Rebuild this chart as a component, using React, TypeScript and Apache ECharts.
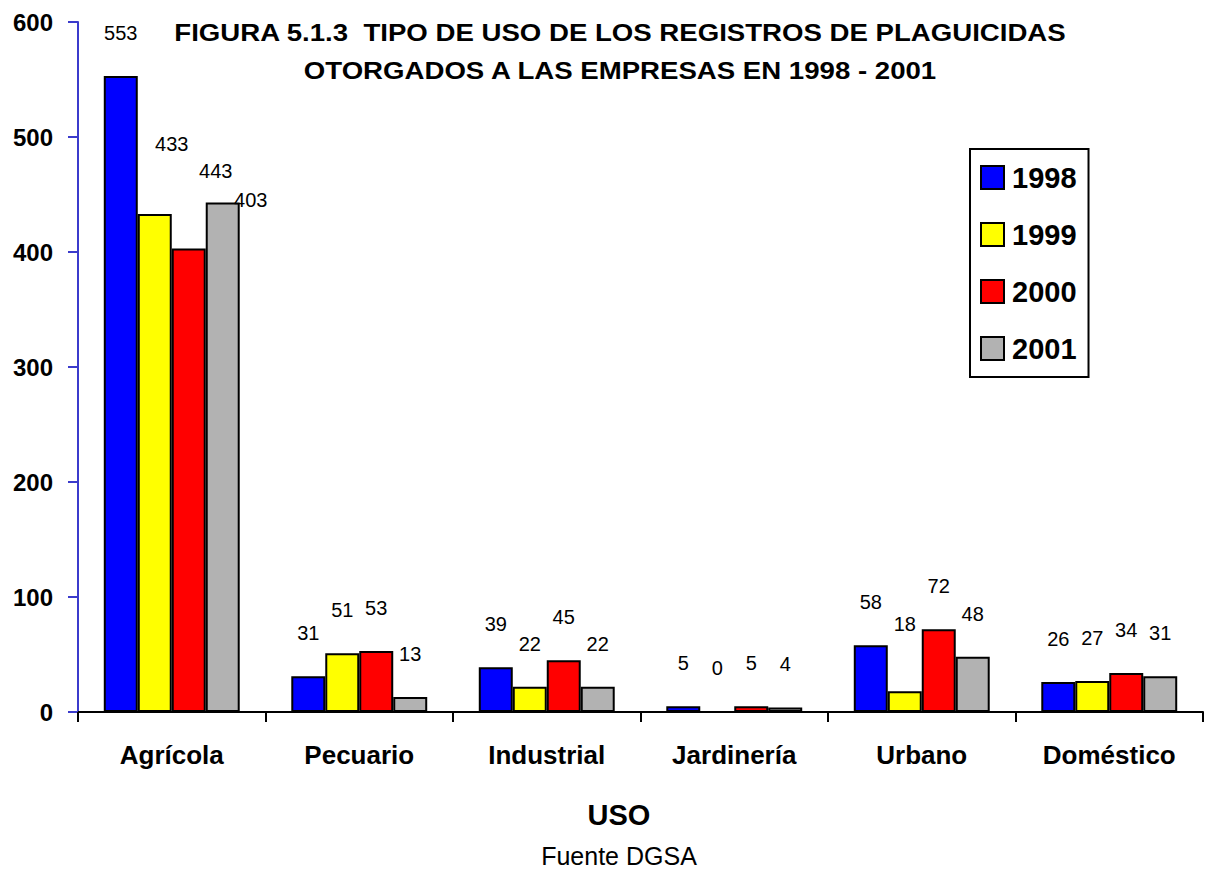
import React, { useEffect, useRef } from "react";
import * as echarts from "echarts";

const categories = ["Agrícola", "Pecuario", "Industrial", "Jardinería", "Urbano", "Doméstico"];
const years = ["1998", "1999", "2000", "2001"];
const s1998 = [553, 31, 39, 5, 58, 26];
const s1999 = [433, 51, 22, 0, 18, 27];
const s2000 = [403, 53, 45, 5, 72, 34];
const s2001 = [443, 13, 22, 4, 48, 31];
const yTicks = [0, 100, 200, 300, 400, 500, 600];
const colors = ["#0000ff", "#ffff00", "#ff0000", "#b2b2b2"];

const titleText = "FIGURA 5.1.3  TIPO DE USO DE LOS REGISTROS DE PLAGUICIDAS\nOTORGADOS A LAS EMPRESAS EN 1998 - 2001";

export default function App() {
  const ref = useRef<HTMLDivElement>(null);
  useEffect(() => {
    if (!ref.current) return;
    const chart = echarts.init(ref.current, null, { renderer: "svg" });
    const all = [s1998, s1999, s2000, s2001];
    const font = "'Liberation Sans', Arial, sans-serif";
    const labelStyle = (i: number, j: number) => {
      if (j === 0 && i === 1) return { distance: 60, offset: [17, 0] };
      if (j === 4 && i === 1) return { distance: 57 };
      if (j === 0 && i === 2) return { distance: 30, offset: [62, -9] };
      if (j === 0 && i === 3) return { distance: 22, offset: [-7, 0] };
      return { distance: 33 };
    };
    const series = all.map((vals, i) => ({
      name: years[i],
      type: "bar",
      barGap: "0%",
      barCategoryGap: "27.5%",
      data: vals.map((v, j) => ({ value: v, label: labelStyle(i, j) })),
      itemStyle: { color: colors[i], borderColor: "#000", borderWidth: 2 },
      label: {
        show: true,
        position: "top",
        color: "#000",
        fontFamily: font,
        fontSize: 20,
      },
    }));
    chart.setOption({
      animation: false,
      backgroundColor: "#fff",
      grid: { left: 78, right: 6, top: 22, bottom: 159, containLabel: false },
      legend: {
        orient: "vertical",
        left: 970,
        top: 149,
        data: years,
        icon: "rect",
        itemWidth: 23,
        itemHeight: 23,
        itemGap: 28,
        padding: [14, 12, 14, 10],
        borderColor: "#000",
        borderWidth: 2,
        itemStyle: { borderColor: "#000", borderWidth: 2 },
        textStyle: { fontFamily: font, fontWeight: "bold", fontSize: 29, color: "#000", padding: [0, 0, 0, 3] },
      },
      xAxis: {
        type: "category",
        data: categories,
        axisLine: { lineStyle: { color: "#000", width: 2 } },
        axisTick: { show: true, length: 10, lineStyle: { color: "#000", width: 2 } },
        axisLabel: { margin: 30, color: "#000", fontFamily: font, fontWeight: "bold", fontSize: 26 },
      },
      yAxis: {
        type: "value",
        min: yTicks[0],
        max: yTicks[yTicks.length - 1],
        interval: 100,
        axisLine: { show: true, lineStyle: { color: "#3b3bcc", width: 2 } },
        axisTick: { show: true, length: 10, lineStyle: { color: "#3b3bcc", width: 2 } },
        splitLine: { show: false },
        axisLabel: { margin: 25, color: "#000", fontFamily: font, fontWeight: "bold", fontSize: 24 },
      },
      graphic: [
        {
          type: "text",
          x: 620,
          y: 52,
          scaleX: 1.15,
          style: {
            text: titleText,
            textAlign: "center",
            textVerticalAlign: "middle",
            font: "bold 24px 'Liberation Sans', Arial, sans-serif",
            lineHeight: 38,
            fill: "#000",
          },
        },
        {
          type: "text",
          x: 619,
          y: 815,
          style: {
            text: "USO",
            textAlign: "center",
            textVerticalAlign: "middle",
            font: "bold 29px 'Liberation Sans', Arial, sans-serif",
            fill: "#000",
          },
        },
        {
          type: "text",
          x: 619,
          y: 856,
          style: {
            text: "Fuente DGSA",
            textAlign: "center",
            textVerticalAlign: "middle",
            font: "25px 'Liberation Sans', Arial, sans-serif",
            fill: "#000",
          },
        },
      ],
      series,
    });
    return () => chart.dispose();
  }, []);
  return <div ref={ref} style={{ position: "absolute", left: 0, top: 0, width: 1209, height: 871 }} />;
}
